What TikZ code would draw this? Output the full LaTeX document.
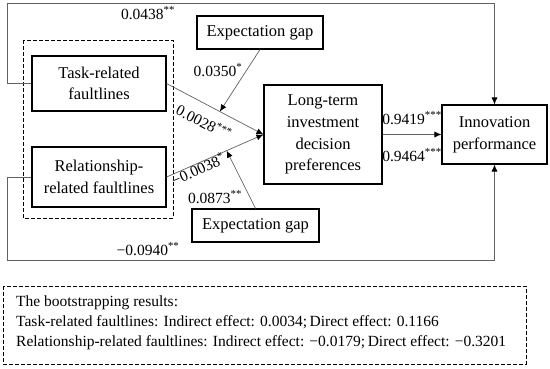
\documentclass[tikz,border=0pt]{standalone}
\usepackage{fontspec}
\setmainfont{Liberation Serif}
\usetikzlibrary{calc,arrows.meta}

\begin{document}
\begin{tikzpicture}[x=1pt, y=-1pt, >={Latex[length=7pt,width=6pt,black]},
        font=\fontsize{16.5}{21.7}\selectfont,
        box/.style={draw, line width=1.1pt, align=center, inner sep=0pt},
        link/.style={draw=black!62, line width=0.7pt},
        coef/.style={inner sep=0pt, font=\fontsize{15.5}{18}\selectfont}]
        \useasboundingbox (0,0) rectangle (550,368);

        % boxes
        \node[box, minimum width=134, minimum height=55] (task) at (99,83.5) {Task-related\\faultlines};
        \node[box, minimum width=134, minimum height=60] (rel) at (99,177) {Relationship-\\related faultlines};
        \draw[dashed, dash pattern=on 4pt off 2pt, line width=1pt] (23,40) rectangle (173,218);
        \node[box, minimum width=126, minimum height=33] (gapup) at (260,32.5) {Expectation gap};
        \node[box, minimum width=127, minimum height=33] (gapdown) at (255.5,225.5) {Expectation gap};
        \node[box, minimum width=118, minimum height=99] (ltidp) at (323,134.5) {Long-term\\investment\\decision\\preferences};
        \node[box, minimum width=105, minimum height=59] (innov) at (494.5,134.5) {Innovation\\performance};

        \coordinate (looptop) at (7,3);
        \coordinate (loopbot) at (7,260);
        \coordinate (hitup) at ($(task.east)!0.55!(ltidp.west)$);
        \coordinate (hitdown) at ($(rel.east)!0.62!(ltidp.west)$);

        % paths
        \draw[link,->] (task.east) -- (ltidp.west);
        \draw[link,->] (rel.east) -- (ltidp.west);
        \draw[link,->] (gapup.south) -- (hitup);
        \draw[link,->] (gapdown.north) -- (hitdown);
        \draw[link,->] (ltidp.east) -- (innov.west);
        \draw[link,->] (task.west) -| (looptop) -| (innov.north);
        \draw[link,->] (rel.west) -| (loopbot) -| (innov.south);

        % coefficients
        \node[coef] (c1) at (148,13) {0.0438\textsuperscript{**}};
        \node[coef] (c2) at (218,70) {0.0350\textsuperscript{*}};
        \node[coef, rotate=-27] (c3) at (204,122) {0.0028\textsuperscript{***}};
        \node[coef, rotate=24] (c4) at (198,169) {−0.0038\textsuperscript{*}};
        \node[coef] (c5) at (215,197) {0.0873\textsuperscript{**}};
        \node[coef] (c6) at (148,249) {−0.0940\textsuperscript{**}};
        \node[coef] (c7) at (412,118) {0.9419\textsuperscript{***}};
        \node[coef] (c8) at (412,155) {0.9464\textsuperscript{***}};

        % bootstrapping note
        \draw[dashed, dash pattern=on 4pt off 2pt, line width=1pt] (3,286) rectangle (526,364);
        \node[anchor=west, align=left, inner sep=0pt, font=\fontsize{15.5}{20}\selectfont] (boot) at (16,323)
            {The bootstrapping results:\\
             Task-related faultlines: Indirect effect: 0.0034;\,Direct effect: 0.1166\\
             Relationship-related faultlines: Indirect effect: −0.0179;\,Direct effect: −0.3201};
\end{tikzpicture}
\end{document}
